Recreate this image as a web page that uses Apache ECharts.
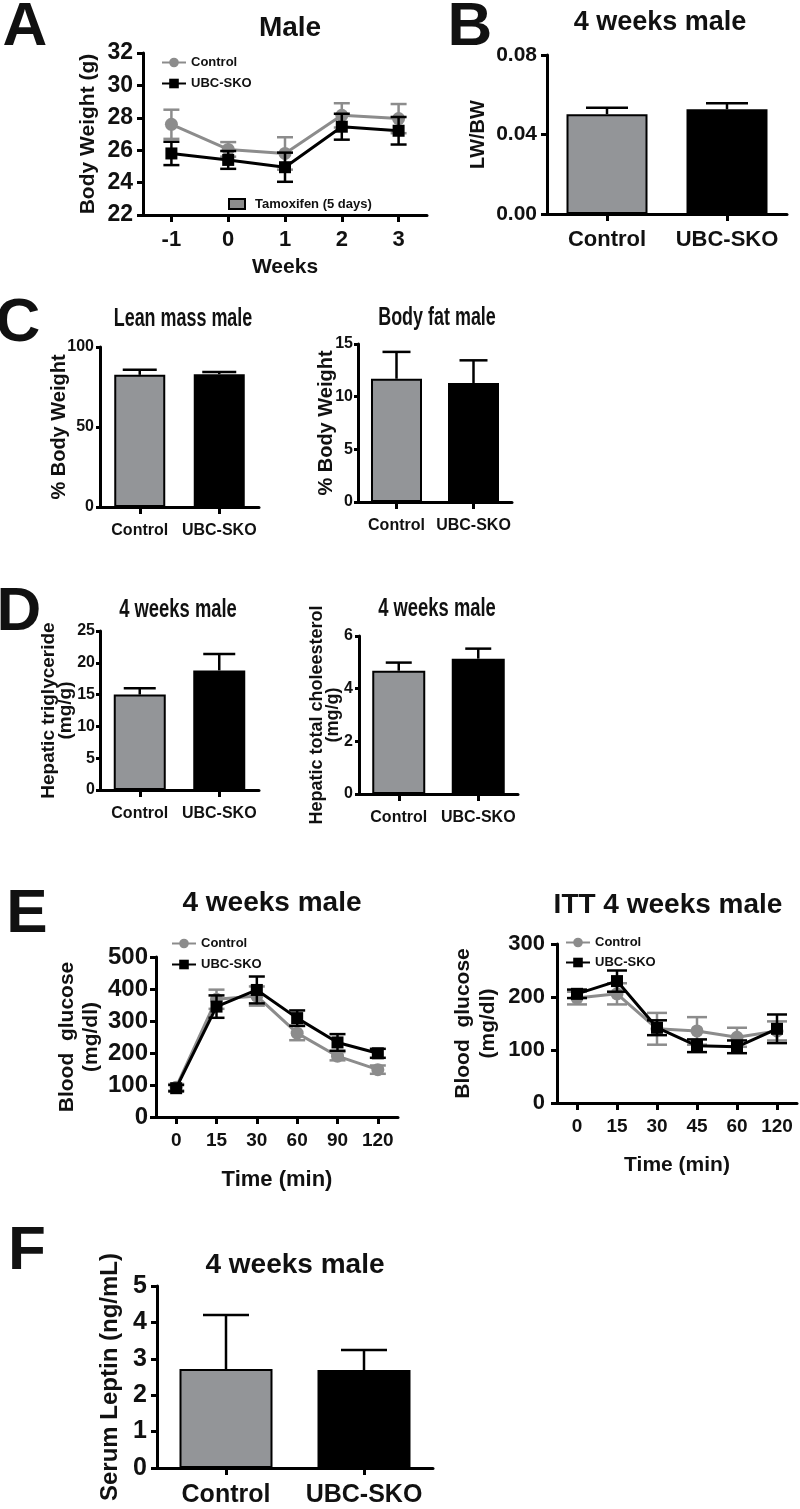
<!DOCTYPE html>
<html><head><meta charset="utf-8">
<script src="https://cdn.jsdelivr.net/npm/echarts@6/dist/echarts.min.js"></script>
<style>html,body{margin:0;padding:0;background:#fff}#c{width:800px;height:1509px}</style>
</head><body><div id="c"></div>
<script>
// ---------- data ----------
const weeks = ['-1', '0', '1', '2', '3'];
const bwControl = [27.6, 26.05, 25.8, 28.15, 27.95];
const bwControlErr = [0.9, 0.45, 1.0, 0.75, 0.9];
const bwSKO = [25.8, 25.4, 24.95, 27.45, 27.2];
const bwSKOErr = [0.72, 0.55, 0.9, 0.8, 0.85];

const groups = ['Control', 'UBC-SKO'];
const lwbw = [0.0502, 0.0527];
const lwbwErr = [0.0033, 0.003];
const leanMass = [82.6, 83.0];
const leanMassErr = [3.2, 1.3];
const bodyFat = [11.7, 11.3];
const bodyFatErr = [2.55, 2.15];
const hepTG = [15.0, 18.8];
const hepTGErr = [1.0, 2.6];
const hepChol = [4.68, 5.14];
const hepCholErr = [0.31, 0.38];
const leptin = [2.72, 2.69];
const leptinErr = [1.48, 0.55];

const gttTimes = ['0', '15', '30', '60', '90', '120'];
const gttControl = [93, 368, 378, 262, 190, 148];
const gttControlErr = [10, 30, 30, 22, 13, 13];
const gttSKO = [90, 345, 397, 309, 233, 199];
const gttSKOErr = [10, 35, 42, 24, 26, 14];

const ittTimes = ['0', '15', '30', '45', '60', '120'];
const ittControl = [198, 206, 140, 136, 124, 136];
const ittControlErr = [12, 20, 30, 26, 18, 18];
const ittSKO = [206, 230, 142, 108, 106, 140];
const ittSKOErr = [8, 20, 14, 12, 12, 27];

// ---------- style ----------
const GRAY_BAR = '#939598';
const GRAY_LINE = '#8c8c8c';
const INK = '#111';
const SANS = "'Liberation Sans', Arial, sans-serif";

const grids = [], xAxes = [], yAxes = [], series = [], graphics = [], legends = [];

function errRender(both, color, cap, width) {
  return function (params, api) {
    const x = api.value(0), y = api.value(1), e = api.value(2);
    const pTop = api.coord([x, y + e]);
    const pBot = api.coord([x, both ? y - e : y]);
    const style = { stroke: color, lineWidth: width, fill: null };
    const children = [
      { type: 'line', shape: { x1: pTop[0], y1: pTop[1], x2: pBot[0], y2: pBot[1] }, style: style },
      { type: 'line', shape: { x1: pTop[0] - cap, y1: pTop[1], x2: pTop[0] + cap, y2: pTop[1] }, style: style }
    ];
    if (both) children.push({ type: 'line', shape: { x1: pBot[0] - cap, y1: pBot[1], x2: pBot[0] + cap, y2: pBot[1] }, style: style });
    return { type: 'group', children: children };
  };
}

function makeAxes(p, cats) {
  const gi = grids.length;
  grids.push({ left: p.left, top: p.top, width: p.width, height: p.height });
  xAxes.push({
    type: 'category', gridIndex: gi, data: cats, boundaryGap: true,
    name: p.xname || '', nameLocation: 'middle', nameGap: p.xnameGap || 0, nameMoveOverlap: false,
    nameTextStyle: { color: INK, fontFamily: SANS, fontWeight: 'bold', fontSize: p.xnfs || 21 },
    axisLine: { show: true, lineStyle: { color: '#000', width: 3 } },
    axisTick: { show: true, alignWithLabel: true, interval: 0, length: 7, lineStyle: { color: '#000', width: 3 } },
    axisLabel: { interval: 0, hideOverlap: false, color: INK, fontFamily: SANS, fontWeight: 'bold', fontSize: p.xfs, margin: p.xmargin },
    splitLine: { show: false }
  });
  yAxes.push({
    type: 'value', gridIndex: gi, min: p.min, max: p.max, interval: p.interval,
    name: p.yname, nameLocation: 'middle', nameRotate: 90, nameGap: p.ynameGap, nameMoveOverlap: false,
    nameTextStyle: { color: INK, fontFamily: SANS, fontWeight: 'bold', fontSize: p.ynfs, lineHeight: p.ynlh || p.ynfs },
    axisLine: { show: true, lineStyle: { color: '#000', width: 3 } },
    axisTick: { show: true, length: p.ytick || 6, lineStyle: { color: '#000', width: 3 } },
    axisLabel: { color: INK, fontFamily: SANS, fontWeight: 'bold', fontSize: p.yfs, margin: p.ymargin, formatter: p.fmt },
    splitLine: { show: false }
  });
  return gi;
}

function addBarPanel(p, values, errs) {
  const gi = makeAxes(p, groups);
  series.push({
    type: 'bar', xAxisIndex: gi, yAxisIndex: gi, barWidth: p.barWidth, silent: true, z: 2,
    itemStyle: { borderColor: '#000', borderWidth: 2 },
    data: values.map((v, i) => ({ value: v, itemStyle: { color: i === 0 ? GRAY_BAR : '#000' } }))
  });
  series.push({
    type: 'custom', xAxisIndex: gi, yAxisIndex: gi, z: 1, silent: true,
    data: values.map((v, i) => [i, v, errs[i]]),
    renderItem: errRender(false, '#000', p.cap, 2.5)
  });
}

function addLinePanel(p, cats, c, cErr, k, kErr) {
  const gi = makeAxes(p, cats);
  series.push({
    type: 'custom', xAxisIndex: gi, yAxisIndex: gi, z: 2, silent: true,
    data: c.map((v, i) => [i, v, cErr[i]]),
    renderItem: errRender(true, GRAY_LINE, p.cap, 2.5)
  });
  series.push({
    type: 'line', name: 'Control', xAxisIndex: gi, yAxisIndex: gi, data: c, z: 3,
    symbol: 'circle', symbolSize: 13, silent: true,
    lineStyle: { color: GRAY_LINE, width: 3 }, itemStyle: { color: GRAY_LINE }
  });
  series.push({
    type: 'custom', xAxisIndex: gi, yAxisIndex: gi, z: 4, silent: true,
    data: k.map((v, i) => [i, v, kErr[i]]),
    renderItem: errRender(true, '#000', p.cap, 2.5)
  });
  series.push({
    type: 'line', name: 'UBC-SKO', xAxisIndex: gi, yAxisIndex: gi, data: k, z: 5,
    symbol: 'rect', symbolSize: 12, silent: true,
    lineStyle: { color: '#000', width: 3 }, itemStyle: { color: '#000' }
  });
  legends.push({
    data: ['Control', 'UBC-SKO'], orient: 'vertical', left: p.legLeft, top: p.legTop, padding: 0,
    itemWidth: 24, itemHeight: 12, itemGap: p.legGap, selectedMode: false,
    textStyle: { color: INK, fontFamily: SANS, fontWeight: 'bold', fontSize: 13 }
  });
}

function text(str, x, y, font, sx, sy) {
  graphics.push({
    type: 'text', x: x, y: y, scaleX: sx || 1, scaleY: sy || 1, silent: true,
    style: { text: str, font: font, fill: INK, textAlign: 'center', textVerticalAlign: 'middle', align: 'center', verticalAlign: 'middle' }
  });
}

// ---------- panel A ----------
addLinePanel({
  left: 143, top: 53, width: 284, height: 162, min: 22, max: 32, interval: 2,
  yname: 'Body Weight (g)', ynfs: 21, ynameGap: 44, yfs: 23, ymargin: 10,
  xfs: 22, xmargin: 14, xname: 'Weeks', xnameGap: 42, xnfs: 21,
  cap: 8, legLeft: 161, legTop: 56, legGap: 8
}, weeks, bwControl, bwControlErr, bwSKO, bwSKOErr);

// ---------- panel B ----------
addBarPanel({
  left: 547, top: 55, width: 240, height: 159, min: 0, max: 0.08, interval: 0.04,
  fmt: v => v.toFixed(2), yname: 'LW/BW', ynfs: 20, ynameGap: 59, yfs: 21, ymargin: 10,
  xfs: 22, xmargin: 15, barWidth: 81, cap: 21
}, lwbw, lwbwErr);

// ---------- panel C ----------
addBarPanel({
  left: 100, top: 347, width: 159, height: 160, min: 0, max: 100, interval: 50,
  yname: '% Body Weight', ynfs: 20, ynameGap: 31, yfs: 16, ymargin: 6, ytick: 4,
  xfs: 16, xmargin: 16, barWidth: 51, cap: 17
}, leanMass, leanMassErr);
addBarPanel({
  left: 358, top: 344, width: 154, height: 158, min: 0, max: 15, interval: 5,
  yname: '% Body Weight', ynfs: 20, ynameGap: 22, yfs: 16, ymargin: 5, ytick: 4,
  xfs: 16, xmargin: 16, barWidth: 51, cap: 14
}, bodyFat, bodyFatErr);

// ---------- panel D ----------
addBarPanel({
  left: 100, top: 631, width: 159, height: 159, min: 0, max: 25, interval: 5,
  yname: 'Hepatic triglyceride\n(mg/g)', ynfs: 19, ynlh: 17, ynameGap: 26, yfs: 16, ymargin: 5, ytick: 4,
  xfs: 16, xmargin: 16, barWidth: 52, cap: 16
}, hepTG, hepTGErr);
addBarPanel({
  left: 359, top: 636, width: 159, height: 158, min: 0, max: 6, interval: 2,
  yname: 'Hepatic total choleesterol\n(mg/g)', ynfs: 18, ynlh: 16, ynameGap: 18, yfs: 16, ymargin: 6, ytick: 4,
  xfs: 16, xmargin: 16, barWidth: 53, cap: 13
}, hepChol, hepCholErr);

// ---------- panel E ----------
addLinePanel({
  left: 156, top: 957, width: 242, height: 160, min: 0, max: 500, interval: 100,
  yname: 'Blood  glucose\n(mg/dl)', ynfs: 21, ynlh: 24, ynameGap: 53, yfs: 24, ymargin: 8,
  xfs: 19, xmargin: 14, xname: 'Time (min)', xnameGap: 52, xnfs: 22,
  cap: 8, legLeft: 171, legTop: 937, legGap: 8
}, gttTimes, gttControl, gttControlErr, gttSKO, gttSKOErr);
addLinePanel({
  left: 557, top: 944, width: 240, height: 159, min: 0, max: 300, interval: 100,
  yname: 'Blood  glucose\n(mg/dl)', ynfs: 21, ynlh: 25, ynameGap: 56, yfs: 22, ymargin: 12,
  xfs: 19, xmargin: 14, xname: 'Time (min)', xnameGap: 52, xnfs: 21,
  cap: 10, legLeft: 565, legTop: 936, legGap: 7
}, ittTimes, ittControl, ittControlErr, ittSKO, ittSKOErr);

// ---------- panel F ----------
addBarPanel({
  left: 157, top: 1286, width: 276, height: 182, min: 0, max: 5, interval: 1,
  yname: 'Serum Leptin (ng/mL)', ynfs: 24, ynameGap: 35, yfs: 25, ymargin: 10,
  xfs: 25, xmargin: 15, barWidth: 93, cap: 23
}, leptin, leptinErr);

// ---------- titles and panel letters ----------
const LETTER = 'bold 62px ' + SANS;
text('A', 25, 28, LETTER);
text('B', 470, 28, LETTER);
text('C', 18, 324, LETTER);
text('D', 19, 613, LETTER);
text('E', 27, 915, LETTER);
text('F', 27, 1252, LETTER);

text('Male', 290, 28, 'bold 28px ' + SANS);
text('4 weeks male', 660, 23, 'bold 27px ' + SANS);
text('Lean mass male', 183, 319, 'bold 23px ' + SANS, 0.78, 1.15);
text('Body fat male', 437, 318, 'bold 23px ' + SANS, 0.78, 1.15);
text('4 weeks male', 178, 610, 'bold 23px ' + SANS, 0.8, 1.15);
text('4 weeks male', 437, 609, 'bold 23px ' + SANS, 0.8, 1.15);
text('4 weeks male', 272, 903, 'bold 28px ' + SANS);
text('ITT 4 weeks male', 668, 905, 'bold 28px ' + SANS);
text('4 weeks male', 295, 1265, 'bold 28px ' + SANS);

// Tamoxifen annotation
graphics.push({ type: 'rect', shape: { x: 229, y: 199, width: 16, height: 10 }, style: { fill: GRAY_LINE, stroke: '#000', lineWidth: 2 }, silent: true });
graphics.push({ type: 'text', x: 255, y: 204, silent: true, style: { text: 'Tamoxifen (5 days)', font: 'bold 13px ' + SANS, fill: INK, textAlign: 'left', textVerticalAlign: 'middle', verticalAlign: 'middle' } });

const chart = echarts.init(document.getElementById('c'), null, { renderer: 'canvas' });
chart.setOption({
  animation: false,
  backgroundColor: '#fff',
  grid: grids, xAxis: xAxes, yAxis: yAxes, series: series, legend: legends, graphic: graphics
});
</script></body></html>
